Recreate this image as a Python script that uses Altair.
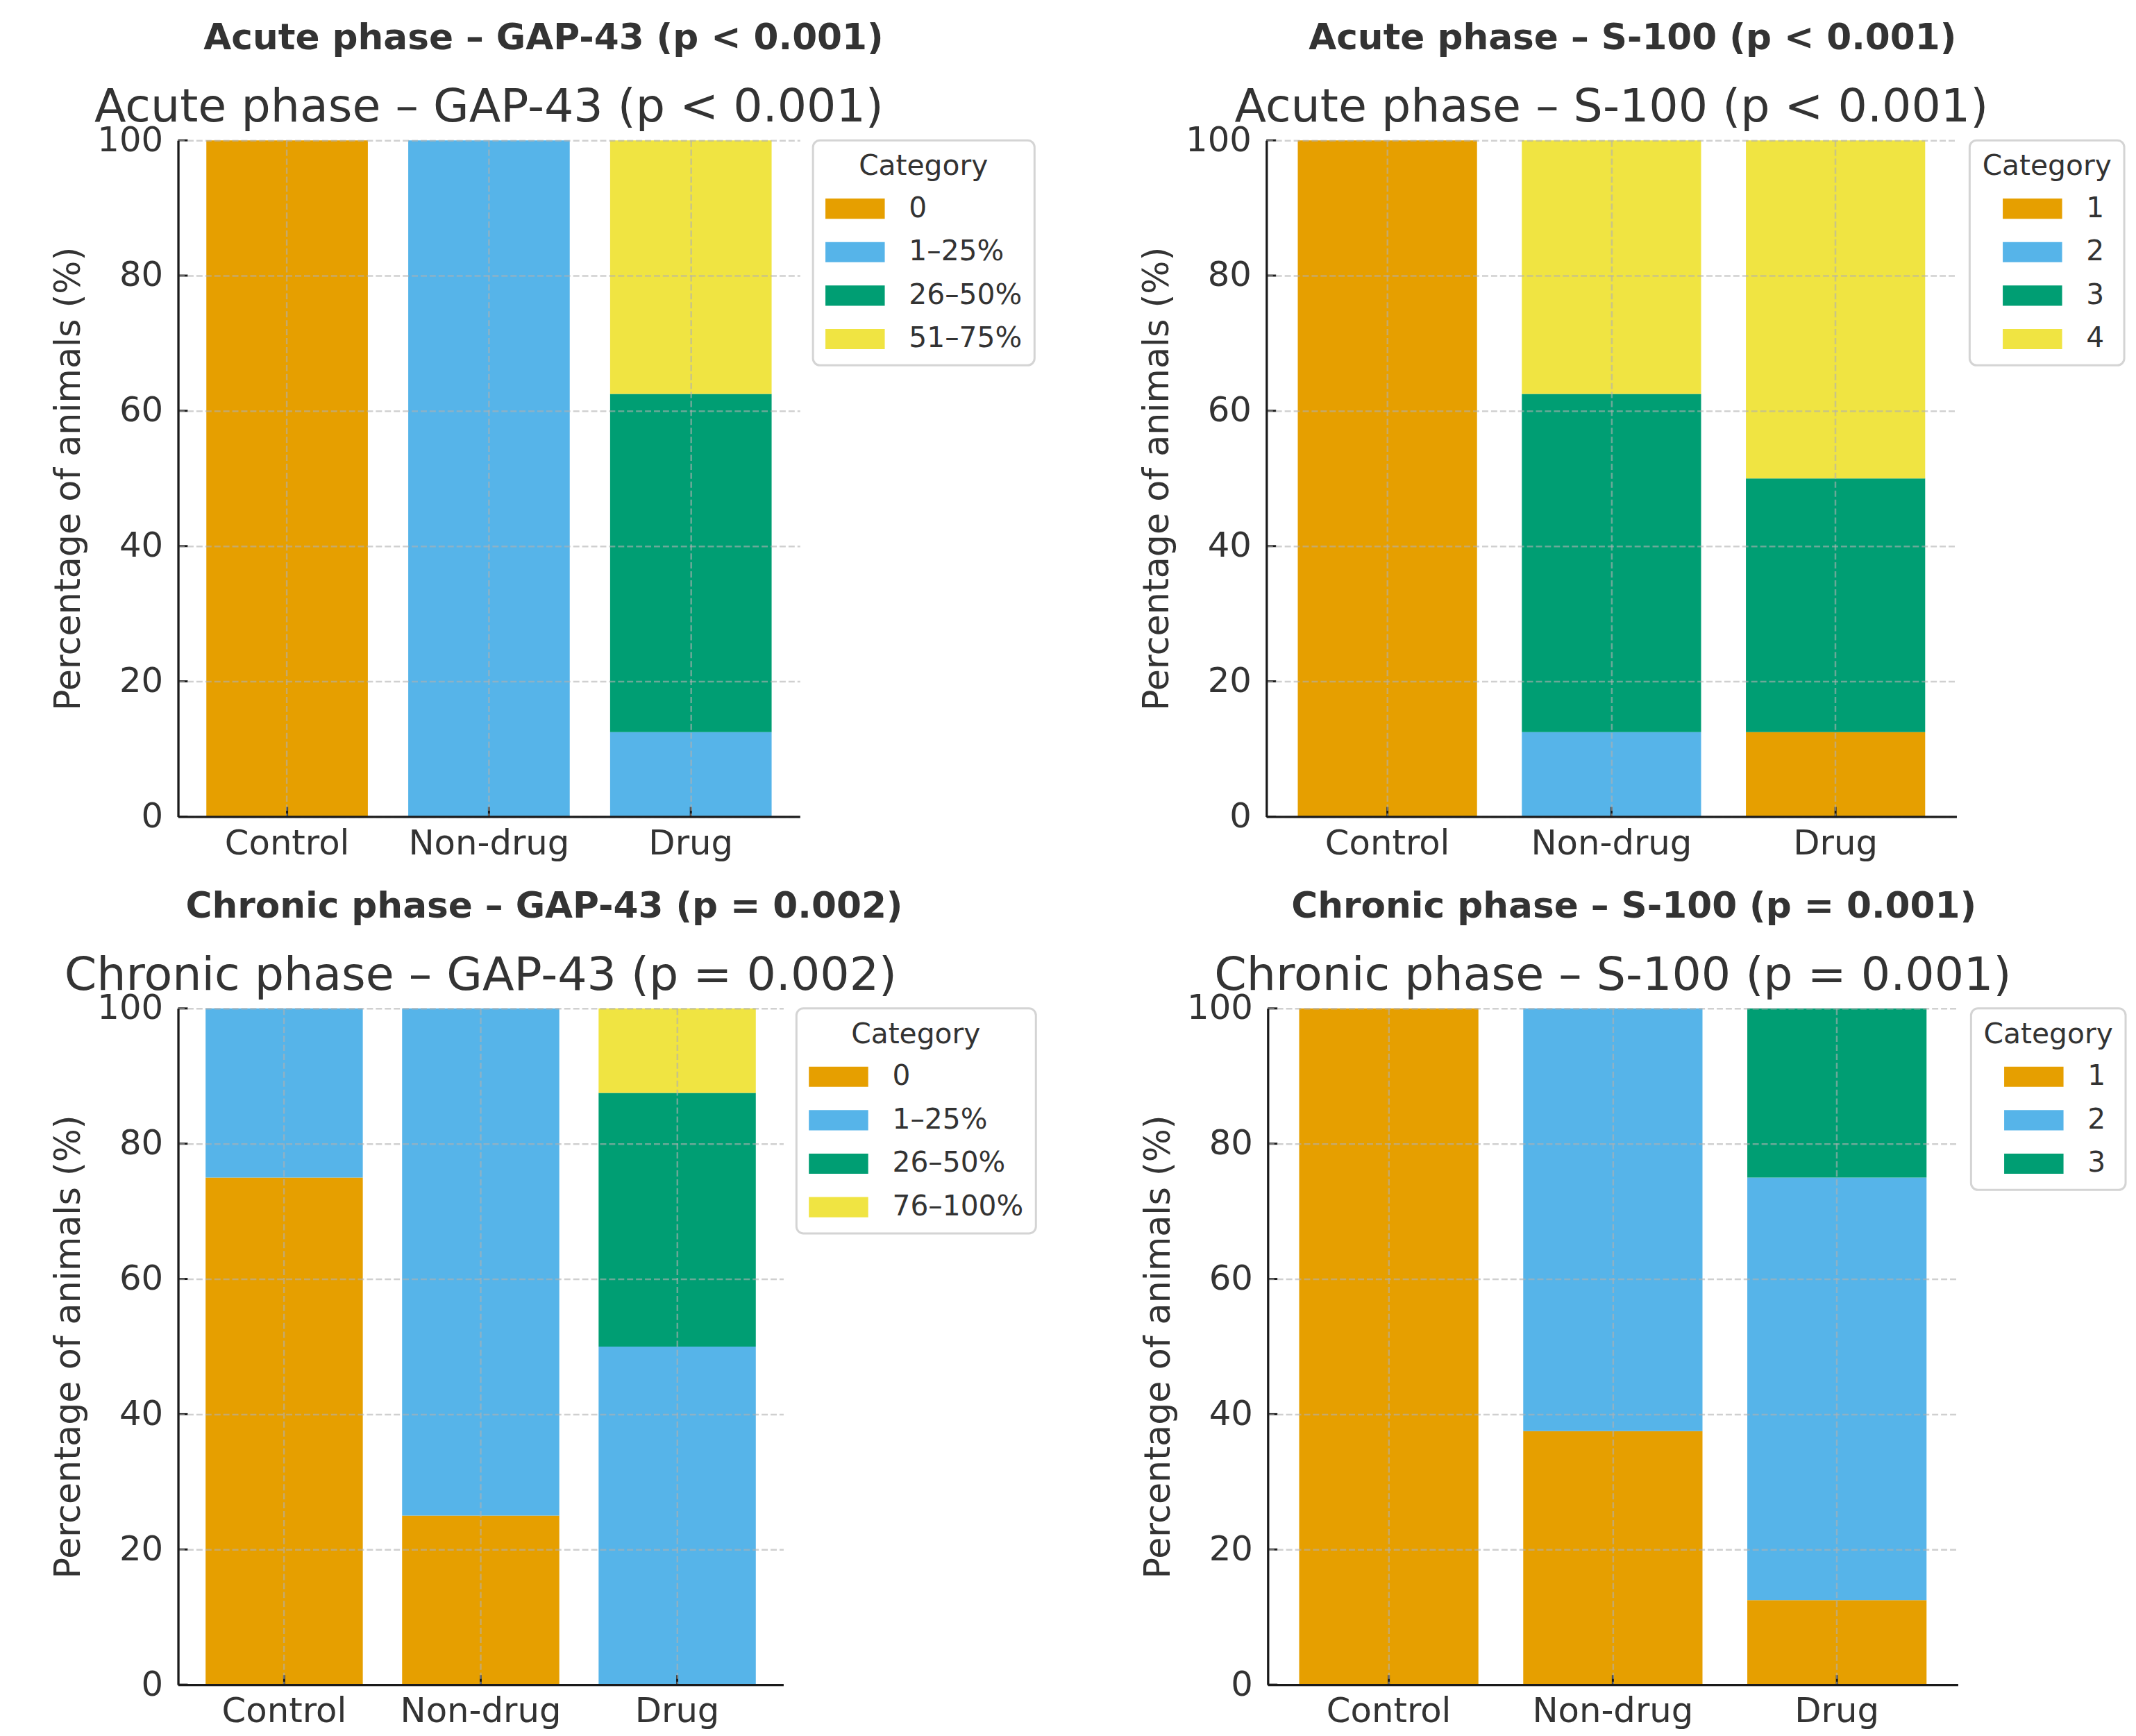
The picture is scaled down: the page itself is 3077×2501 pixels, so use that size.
import altair as alt
import pandas as pd

groups = ["Control", "Non-drug", "Drug"]
palette = ["#E69F00", "#56B4E9", "#009E73", "#F0E442"]
y_ticks = [0, 20, 40, 60, 80, 100]

acute_gap43_title = "Acute phase – GAP-43 (p < 0.001)"
acute_gap43_cats = ["0", "1–25%", "26–50%", "51–75%"]
acute_gap43_vals = [[100, 0, 0], [0, 100, 12.5], [0, 0, 50], [0, 0, 37.5]]

acute_s100_title = "Acute phase – S-100 (p < 0.001)"
acute_s100_cats = ["1", "2", "3", "4"]
acute_s100_vals = [[100, 0, 12.5], [0, 12.5, 0], [0, 50, 37.5], [0, 37.5, 50]]

chronic_gap43_title = "Chronic phase – GAP-43 (p = 0.002)"
chronic_gap43_cats = ["0", "1–25%", "26–50%", "76–100%"]
chronic_gap43_vals = [[75, 25, 0], [25, 75, 50], [0, 0, 37.5], [0, 0, 12.5]]

chronic_s100_title = "Chronic phase – S-100 (p = 0.001)"
chronic_s100_cats = ["1", "2", "3"]
chronic_s100_vals = [[100, 37.5, 12.5], [0, 62.5, 62.5], [0, 0, 25]]

H = 980
TXT = "#333333"
AXC = "#1a1a1a"


def panel(title, cats, vals, width, sym_offset):
    rows = []
    for ci, (c, vs) in enumerate(zip(cats, vals)):
        for g, v in zip(groups, vs):
            if v > 0:
                rows.append({"group": g, "category": c, "idx": ci, "value": v})
    df = pd.DataFrame(rows)
    ytick_df = pd.DataFrame({"value": y_ticks})
    xtick_df = pd.DataFrame({"group": groups})

    xscale = alt.Scale(domain=groups, paddingInner=0.2, paddingOuter=0.14)
    yscale = alt.Scale(domain=[0, 100], nice=False)
    xaxis = alt.Axis(title=None, labelAngle=0, labelFontSize=50, labelColor=TXT,
                     labelLimit=600, ticks=False, labelPadding=14, domainColor=AXC,
                     domainWidth=3.3, grid=True, gridDash=[9, 4], gridColor="#b0b0b0",
                     gridOpacity=0.6, gridWidth=2.5, bandPosition=0.5, zindex=1)
    yaxis = alt.Axis(title="Percentage of animals (%)", titleFontSize=51,
                     titleFontWeight="normal", titleColor=TXT, titlePadding=14,
                     labelFontSize=50, labelColor=TXT, values=y_ticks, ticks=False,
                     labelPadding=22, domainColor=AXC, domainWidth=3.3, grid=True,
                     gridDash=[9, 4], gridColor="#b0b0b0", gridOpacity=0.6, gridWidth=2.5,
                     zindex=1)

    bars = alt.Chart(df).mark_bar().encode(
        x=alt.X("group:N", scale=xscale, sort=groups, axis=xaxis),
        y=alt.Y("value:Q", stack="zero", scale=yscale, axis=yaxis),
        color=alt.Color(
            "category:N",
            scale=alt.Scale(domain=cats, range=palette[:len(cats)]),
            legend=alt.Legend(
                title="Category", orient="right", offset=19, padding=18,
                strokeColor="#d4d4d4", cornerRadius=10, fillColor="white",
                titleFontSize=41, titleFontWeight="normal", titleAnchor="middle",
                titleColor=TXT, titlePadding=-3, titleLimit=600, labelFontSize=41,
                labelColor=TXT, labelLimit=600, symbolType="M-1,-0.34H1V0.34H-1Z",
                symbolSize=7396, symbolStrokeWidth=0, symbolOpacity=1, labelOffset=35,
                rowPadding=-22, symbolOffset=sym_offset,
            ),
        ),
        order=alt.Order("idx:Q", sort="ascending"),
    )
    yt = alt.Chart(ytick_df).mark_rule(color=AXC, strokeWidth=3).encode(
        y=alt.Y("value:Q", scale=yscale, axis=yaxis),
        x=alt.value(0), x2=alt.value(14),
    )
    xt = alt.Chart(xtick_df).mark_rule(color=AXC, strokeWidth=3).encode(
        x=alt.X("group:N", scale=xscale, sort=groups, axis=xaxis),
        y=alt.value(H - 14), y2=alt.value(H),
    )
    layer = alt.layer(bars, yt, xt).properties(
        width=width, height=H,
        title=alt.TitleParams(text=title, fontSize=67, fontWeight="normal", color=TXT,
                              anchor="middle", offset=-12),
    )
    return alt.vconcat(
        layer,
        title=alt.TitleParams(text=title, fontSize=52, fontWeight="bold", color=TXT,
                              anchor="middle", frame="bounds", offset=40),
    ).resolve_scale(color="independent")


tl = panel(acute_gap43_title, acute_gap43_cats, acute_gap43_vals, 901, 0)
tr = panel(acute_s100_title, acute_s100_cats, acute_s100_vals, 1000, 20)
bl = panel(chronic_gap43_title, chronic_gap43_cats, chronic_gap43_vals, 877, 0)
br = panel(chronic_s100_title, chronic_s100_cats, chronic_s100_vals, 1000, 20)

row1 = alt.hconcat(tl, tr, spacing=150).resolve_scale(color="independent")
row2 = alt.hconcat(bl, br, spacing=150).resolve_scale(color="independent")

chart = alt.vconcat(row1, row2, spacing=40).resolve_scale(
    color="independent"
).properties(
    padding={"left": 66, "top": 14, "right": 5, "bottom": 5},
    background="white",
).configure(font="DejaVu Sans").configure_view(strokeWidth=0).configure_legend(
    strokeWidth=3
)

chart.save("out.html", embed_options={"renderer": "svg", "actions": False})
